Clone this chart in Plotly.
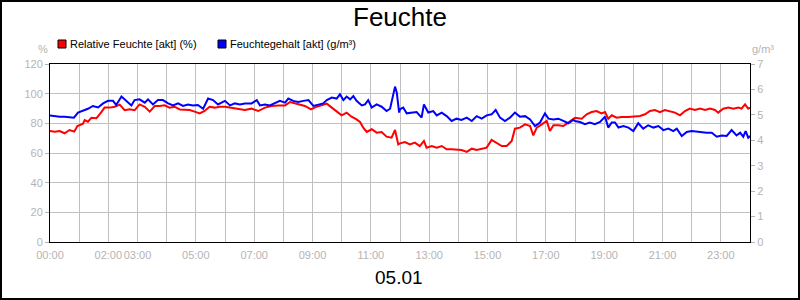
import plotly.graph_objects as go

# --- data ---
rel_hours = [0.00, 0.16, 0.33, 0.50, 0.67, 0.83, 0.94, 1.13, 1.19, 1.30, 1.42, 1.59, 1.76, 1.87, 2.05, 2.22,
             2.39, 2.56, 2.73, 2.90, 3.07, 3.25, 3.42, 3.59, 3.76, 3.93, 4.10, 4.27, 4.45, 4.62, 4.79, 4.96,
             5.13, 5.30, 5.47, 5.65, 5.82,
             6.00, 6.23, 6.46, 6.68, 6.91, 7.14, 7.37, 7.60, 7.83, 8.06, 8.23, 8.40, 8.57, 8.74, 8.95, 9.14,
             9.31, 9.49, 9.66, 9.83, 10.00, 10.17, 10.34, 10.51, 10.63, 10.74, 10.86, 11.03, 11.20, 11.37,
             11.54, 11.71, 11.83, 11.94,
             12.00, 12.17, 12.34, 12.51, 12.68, 12.82, 12.91, 13.09, 13.26, 13.43, 13.60, 13.77, 13.94, 14.11,
             14.29, 14.46, 14.63, 14.80, 14.97, 15.14, 15.31, 15.49, 15.66, 15.83, 15.94, 16.11, 16.29, 16.46,
             16.57, 16.69, 16.86, 17.03, 17.14, 17.26, 17.43, 17.60, 17.77, 17.94,
             18.00, 18.23, 18.40, 18.57, 18.74, 18.91, 19.03, 19.14, 19.26, 19.43, 19.60, 19.83, 20.06, 20.23,
             20.40, 20.57, 20.74, 20.91, 21.08, 21.26, 21.43, 21.60, 21.77, 21.94, 22.11, 22.29, 22.46, 22.63,
             22.80, 22.91, 23.08, 23.26, 23.43, 23.60, 23.71, 23.83, 23.94, 24.00]
rel_values = [74.8, 74.4, 74.8, 73.3, 75.5, 74.4, 78.2, 79.8, 82.2, 81.1, 83.8, 83.4, 87.6, 90.6, 90.6, 91.2,
              92.6, 88.8, 89.4, 88.8, 92.8, 91.2, 87.9, 91.7, 91.7, 92.1, 90.6, 91.2, 89.4, 89.4, 89.0, 87.9,
              86.7, 88.3, 91.2, 90.6, 91.2,
              91.2, 90.6, 89.9, 89.0, 89.9, 88.3, 90.6, 91.7, 92.1, 92.1, 94.4, 93.5, 92.8, 91.7, 89.4, 91.2,
              92.1, 93.3, 90.6, 88.3, 85.4, 87.2, 84.5, 82.7, 80.9, 77.1, 74.2, 76.0, 73.7, 74.2,
              71.0, 70.3, 75.5, 65.8,
              66.5, 67.4, 65.8, 67.0, 64.7, 68.1, 63.6, 64.7, 63.6, 64.7, 62.5, 62.5, 62.5, 62.0,
              60.7, 62.9, 62.0, 62.9, 63.6, 68.8, 67.0, 64.7, 64.7, 68.1, 76.4, 77.1, 79.3, 78.2,
              71.9, 77.1, 79.3, 81.6, 74.8, 78.7, 78.7, 78.2, 80.5, 83.1,
              83.8, 83.1, 86.1, 87.6, 88.3, 86.7, 87.6, 83.1, 85.4, 83.8, 84.3, 84.3, 84.5, 84.9,
              86.1, 88.3, 89.0, 87.6, 89.0, 88.3, 87.2, 85.4, 88.3, 89.9, 89.0, 89.9, 89.0, 89.9,
              89.0, 87.2, 89.9, 90.6, 89.9, 90.6, 89.9, 92.8, 89.9, 90.6]

abs_hours = [0.00, 0.16, 0.33, 0.50, 0.67, 0.82, 0.96, 1.13, 1.30, 1.47, 1.65, 1.82, 1.99, 2.16, 2.27, 2.45,
             2.62, 2.79, 2.90, 3.07, 3.25, 3.36, 3.53, 3.70, 3.87, 4.05, 4.22, 4.39, 4.56, 4.73, 4.90, 5.07,
             5.25, 5.42, 5.59, 5.76, 5.93,
             6.00, 6.17, 6.34, 6.51, 6.68, 6.91, 7.09, 7.20, 7.37, 7.54, 7.71, 7.88, 8.06, 8.17, 8.34, 8.51,
             8.69, 8.86, 9.03, 9.20, 9.37, 9.49, 9.66, 9.83, 9.94, 10.06, 10.17, 10.29, 10.40, 10.51, 10.69,
             10.80, 10.91, 11.03, 11.20, 11.37, 11.54, 11.66, 11.77, 11.83, 11.89, 11.97,
             12.00, 12.11, 12.23, 12.40, 12.57, 12.74, 12.82, 12.97, 13.14, 13.26, 13.43, 13.60, 13.77, 13.94,
             14.11, 14.29, 14.46, 14.63, 14.80, 14.97, 15.14, 15.28, 15.43, 15.60, 15.77, 15.94, 16.11, 16.29,
             16.46, 16.63, 16.80, 16.97, 17.09, 17.26, 17.43, 17.60, 17.77, 17.94,
             18.00, 18.17, 18.34, 18.51, 18.68, 18.86, 19.03, 19.14, 19.26, 19.37, 19.49, 19.66, 19.83, 20.00,
             20.17, 20.34, 20.51, 20.69, 20.86, 21.03, 21.20, 21.37, 21.49, 21.66, 21.83, 22.00, 22.17, 22.34,
             22.51, 22.69, 22.86, 23.03, 23.20, 23.37, 23.54, 23.66, 23.77, 23.85, 23.94, 24.00]
abs_values = [4.98, 4.95, 4.93, 4.93, 4.92, 4.89, 5.09, 5.15, 5.24, 5.35, 5.29, 5.45, 5.55, 5.55, 5.39, 5.72,
              5.55, 5.37, 5.58, 5.61, 5.48, 5.61, 5.41, 5.58, 5.58, 5.45, 5.37, 5.45, 5.35, 5.41, 5.37, 5.39,
              5.24, 5.64, 5.58, 5.41, 5.51,
              5.55, 5.37, 5.45, 5.41, 5.45, 5.45, 5.58, 5.37, 5.41, 5.37, 5.45, 5.55, 5.48, 5.64, 5.55, 5.51,
              5.55, 5.58, 5.35, 5.41, 5.45, 5.58, 5.68, 5.64, 5.81, 5.58, 5.72, 5.61, 5.74, 5.55, 5.37,
              5.41, 5.58, 5.29, 5.41, 5.32, 5.15, 5.24, 5.81, 6.11, 5.87, 5.09,
              5.22, 5.29, 5.06, 5.09, 5.11, 4.89, 5.41, 5.09, 5.15, 4.98, 5.09, 4.95, 4.76, 4.85,
              4.80, 4.89, 4.76, 4.95, 4.85, 4.98, 5.02, 5.19, 4.89, 4.76, 4.89, 5.09, 4.93, 4.95,
              4.82, 4.56, 4.70, 5.06, 4.85, 4.82, 4.85, 4.76, 4.67, 4.80,
              4.76, 4.72, 4.63, 4.70, 4.63, 4.72, 4.93, 4.50, 4.70, 4.70, 4.50, 4.56, 4.50, 4.36,
              4.67, 4.46, 4.59, 4.50, 4.56, 4.40, 4.46, 4.36, 4.46, 4.17, 4.33, 4.36, 4.33, 4.33,
              4.30, 4.30, 4.14, 4.19, 4.17, 4.40, 4.19, 4.30, 4.14, 4.36, 4.10, 4.17]

hour_ticks = list(range(0, 25))
hour_labels = ["00:00", "", "02:00", "03:00", "", "05:00", "", "07:00", "", "09:00", "", "11:00", "",
               "13:00", "", "15:00", "", "17:00", "", "19:00", "", "21:00", "", "23:00", ""]
left_ticks = [0, 20, 40, 60, 80, 100, 120]
right_ticks = [0, 1, 2, 3, 4, 5, 6, 7]

series_names = ["Relative Feuchte [akt] (%)", "Feuchtegehalt [akt] (g/m³)"]
title_text = "Feuchte"
date_text = "05.01"

# --- figure ---
W, H = 800, 300
L, R, T, B = 50, 50, 64, 58
PW, PH = W - L - R, H - T - B

def px(x):
    return (x - L) / PW

def py(y):
    return (H - B - y) / PH

GRAY = "#b4b4b4"
GRID = "#c0c0c0"
FONT = "Liberation Sans, Arial, sans-serif"

fig = go.Figure()
fig.add_trace(go.Scatter(x=rel_hours, y=rel_values, mode="lines",
                         line=dict(color="#ff0000", width=2), name=series_names[0],
                         showlegend=False, yaxis="y"))
fig.add_trace(go.Scatter(x=abs_hours, y=abs_values, mode="lines",
                         line=dict(color="#0000ff", width=2), name=series_names[1],
                         showlegend=False, yaxis="y2"))

fig.update_layout(
    width=W, height=H,
    margin=dict(l=L, r=R, t=T, b=B, pad=0),
    paper_bgcolor="white", plot_bgcolor="white",
    font=dict(family=FONT, size=11, color=GRAY),
    xaxis=dict(range=[0, 24], tickvals=hour_ticks, ticktext=hour_labels, tickangle=0,
               ticklabelstandoff=3,
               showgrid=True, gridcolor=GRID, gridwidth=1, zeroline=False,
               showline=True, linecolor="black", linewidth=1, mirror=True,
               ticks="", tickfont=dict(size=11, color=GRAY), automargin=False),
    yaxis=dict(range=[0, 120], tickvals=left_ticks,
               showgrid=True, gridcolor=GRID, gridwidth=1, zeroline=False,
               showline=True, linecolor="black", linewidth=1, mirror=True,
               ticks="outside", ticklen=4, tickcolor=GRAY,
               tickfont=dict(size=11, color=GRAY), automargin=False),
    yaxis2=dict(range=[0, 7], tickvals=right_ticks, overlaying="y", side="right",
                showgrid=False, zeroline=False, showline=False,
                ticks="outside", ticklen=4, tickcolor=GRAY,
                tickfont=dict(size=11, color=GRAY), automargin=False),
    showlegend=False,
)

ann = [
    dict(text=title_text, x=0.5, y=py(16.5), font=dict(size=26, color="black")),
    dict(text=date_text, x=px(399), y=py(277), font=dict(size=19, color="black")),
    dict(text="%", x=px(43), y=py(49), font=dict(size=11, color=GRAY)),
    dict(text="g/m³", x=px(763), y=py(49), font=dict(size=11, color=GRAY)),
    dict(text=series_names[0], x=px(68), y=py(44), xanchor="left", font=dict(size=11, color="black")),
    dict(text=series_names[1], x=px(228), y=py(44), xanchor="left", font=dict(size=11, color="black")),
]
for a in ann:
    a.setdefault("xanchor", "center")
    fig.add_annotation(xref="paper", yref="paper", yanchor="middle", showarrow=False, **a)

# legend squares
for x0, col in [(58, "#ff0000"), (218, "#0000ff")]:
    fig.add_shape(type="rect", xref="paper", yref="paper",
                  x0=px(x0), x1=px(x0 + 8), y0=py(48), y1=py(40),
                  fillcolor=col, line=dict(color="black", width=1))

# outer border
fig.add_shape(type="rect", xref="paper", yref="paper",
              x0=px(1), x1=px(W - 1), y0=py(H - 1), y1=py(1),
              line=dict(color="black", width=2), fillcolor="rgba(0,0,0,0)")

fig.write_html("out.html")
